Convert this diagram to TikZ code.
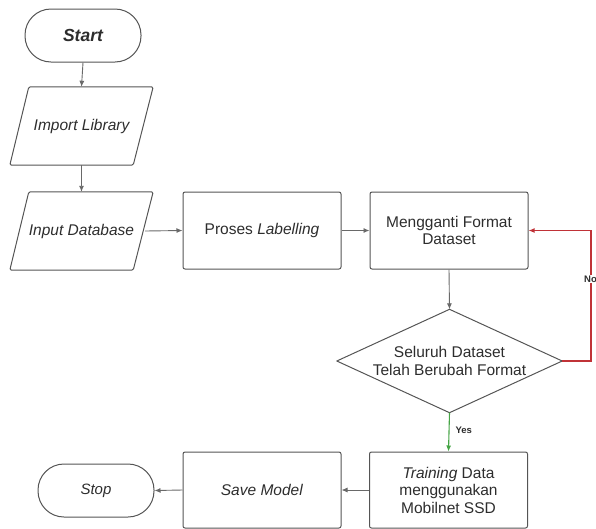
\documentclass[tikz,border=0pt]{standalone}
\usepackage{fontspec}
\setmainfont{Liberation Sans}
\usetikzlibrary{arrows.meta}
\definecolor{edge}{RGB}{85,85,85}
\definecolor{conn}{RGB}{105,105,105}
\definecolor{txt}{RGB}{45,45,45}
\definecolor{noline}{RGB}{192,50,55}
\definecolor{yesline}{RGB}{70,165,70}
\tikzset{
  base/.style={font=\fontsize{15.5}{17.5}\selectfont, text=txt, align=center, inner sep=0pt},
  term/.style={base, draw=edge, line width=1pt, rounded corners=26pt, minimum width=116pt, minimum height=53pt},
  procbox/.style={base, draw=edge, line width=1pt, rounded corners=2pt, minimum width=158pt, minimum height=77pt},
  ghost/.style={base},
  shapeline/.style={draw=edge, line width=1pt, line join=round},
  conn/.style={draw=conn, line width=0.9pt, -{Latex[length=6pt,width=5pt]}},
  lbl/.style={font=\fontsize{9.5}{11}\selectfont\bfseries, text=txt, inner sep=0pt}
}
\begin{document}
\begin{tikzpicture}[x=1pt,y=-1pt]
\useasboundingbox (0,0) rectangle (596,528);
% terminators
\node[term, font=\fontsize{17.5}{20}\selectfont\bfseries\itshape] (start) at (83,35.5) {Start};
\node[term, font=\fontsize{15}{17}\selectfont\itshape] (stop) at (96,490.5) {Stop};
% parallelograms
\node[ghost, minimum width=143pt, minimum height=78pt, font=\fontsize{15.5}{17.5}\selectfont\itshape] (imp) at (81.5,126) {Import Library};
\node[ghost, minimum width=143pt, minimum height=78pt, font=\fontsize{15.5}{17.5}\selectfont\itshape] (inp) at (81.5,231) {Input Database};
\foreach \n in {imp,inp}{
  \draw[shapeline, rounded corners=1.5pt] ([xshift=19pt]\n.north west) -- (\n.north east) -- ([xshift=-20pt]\n.south east) -- (\n.south west) -- cycle;
}
\coordinate (inpR) at ([xshift=-8pt]inp.east);
% process boxes
\node[procbox] (lab) at (262,230.5) {Proses \textit{Labelling}};
\node[procbox] (fmt) at (449,230.5) {Mengganti Format\\Dataset};
\node[procbox, minimum height=76pt] (train) at (448.5,490) {\textit{Training} Data\\menggunakan\\Mobilnet SSD};
\node[procbox, minimum height=76pt] (save) at (262,490) {\textit{Save Model}};
% decision
\node[ghost, minimum width=225pt, minimum height=103pt] (dec) at (449.5,361) {Seluruh Dataset\\Telah Berubah Format};
\draw[shapeline] (dec.north) -- (dec.east) -- (dec.south) -- (dec.west) -- cycle;
\coordinate (loop) at (591,361);
% connectors
\draw[conn] (start.south) -- (imp.north);
\draw[conn] (imp.south) -- (inp.north);
\draw[conn] (inpR) -- (lab.west);
\draw[conn] (lab.east) -- (fmt.west);
\draw[conn] (fmt.south) -- (dec.north);
\draw[conn, draw=yesline, line width=1.1pt] (dec.south) -- node[lbl, anchor=west, xshift=6pt, pos=0.45] (yes) {Yes} (train.north);
\draw[conn, draw=noline, line width=1.3pt] (dec.east) -- (loop) |- (fmt.east);
\node[lbl, anchor=west, fill=white, inner sep=1pt] (no) at (583,279) {No};
\draw[conn] (train.west) -- (save.east);
\draw[conn] (save.west) -- (stop.east);
\end{tikzpicture}
\end{document}
